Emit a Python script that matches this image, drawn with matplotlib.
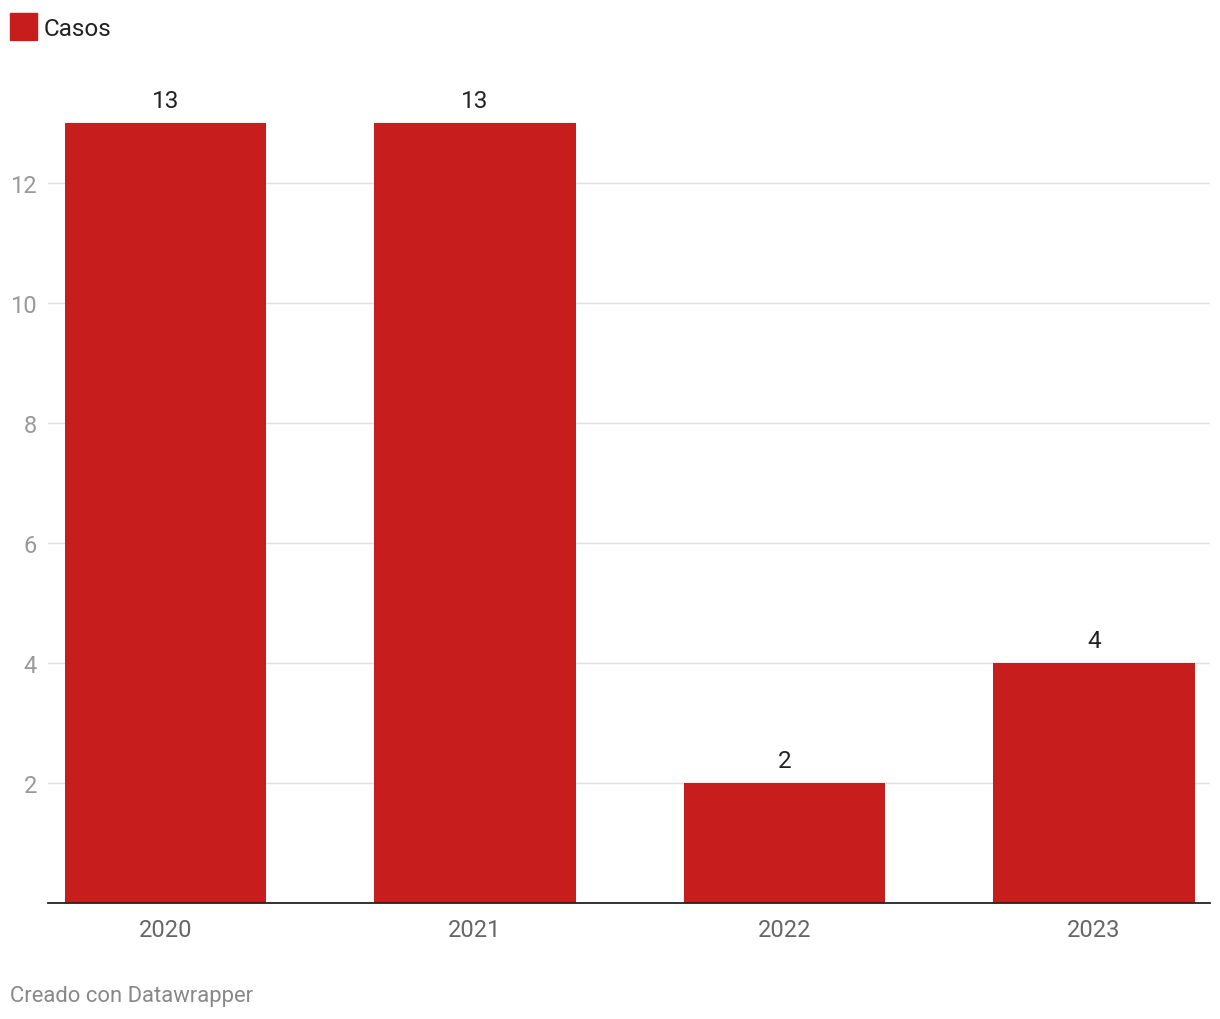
import matplotlib
matplotlib.use("Agg")
import matplotlib.pyplot as plt
from matplotlib.patches import Rectangle

plt.rcParams['font.family'] = ['Roboto', 'DejaVu Sans']

years = ["2020", "2021", "2022", "2023"]
casos = [13, 13, 2, 4]
yticks = [2, 4, 6, 8, 10, 12]

W, H = 1220, 1020
fig = plt.figure(figsize=(W/100, H/100), dpi=100)
ax = fig.add_axes([48/W, 1-904/H, (1210-48)/W, (904-94)/H])

bar_color = "#c71e1d"
x = list(range(len(years)))
bars = ax.bar(x, casos, width=0.65, color=bar_color, zorder=2)
for xi, v in zip(x, casos):
    ax.annotate(str(v), (xi, v), xytext=(0, 8), textcoords="offset points",
                ha="center", va="bottom", fontsize=17.5, color="#222222")

ax.set_xlim(-0.3796, 3.375)
ax.set_ylim(0, 13.5)
ax.set_yticks(yticks)
ax.set_yticklabels([str(t) for t in yticks])
ax.set_xticks(x)
ax.set_xticklabels(years)
ax.grid(axis="y", color="#e0e0e0", linewidth=1, zorder=0)
for s in ["top", "right", "left"]:
    ax.spines[s].set_visible(False)
ax.spines["bottom"].set_color("#222222")
ax.spines["bottom"].set_linewidth(1.3)
ax.spines["bottom"].set_zorder(3)
ax.tick_params(axis="y", length=0, pad=8, labelsize=17, labelcolor="#999999")
ax.tick_params(axis="x", length=0, pad=11, labelsize=17, labelcolor="#666666")

# legend
fig.patches.append(Rectangle((10/W, 1-41/H), 27/W, 27/H, transform=fig.transFigure,
                             color=bar_color, figure=fig))
fig.text(44/W, 1-29.5/H, "Casos", fontsize=17.5, va="center", ha="left", color="#222222")

fig.text(10/W, 1-997/H, "Creado con Datawrapper", fontsize=15.8, va="center", ha="left",
         color="#888888")

fig.savefig("out.png", dpi=100)
